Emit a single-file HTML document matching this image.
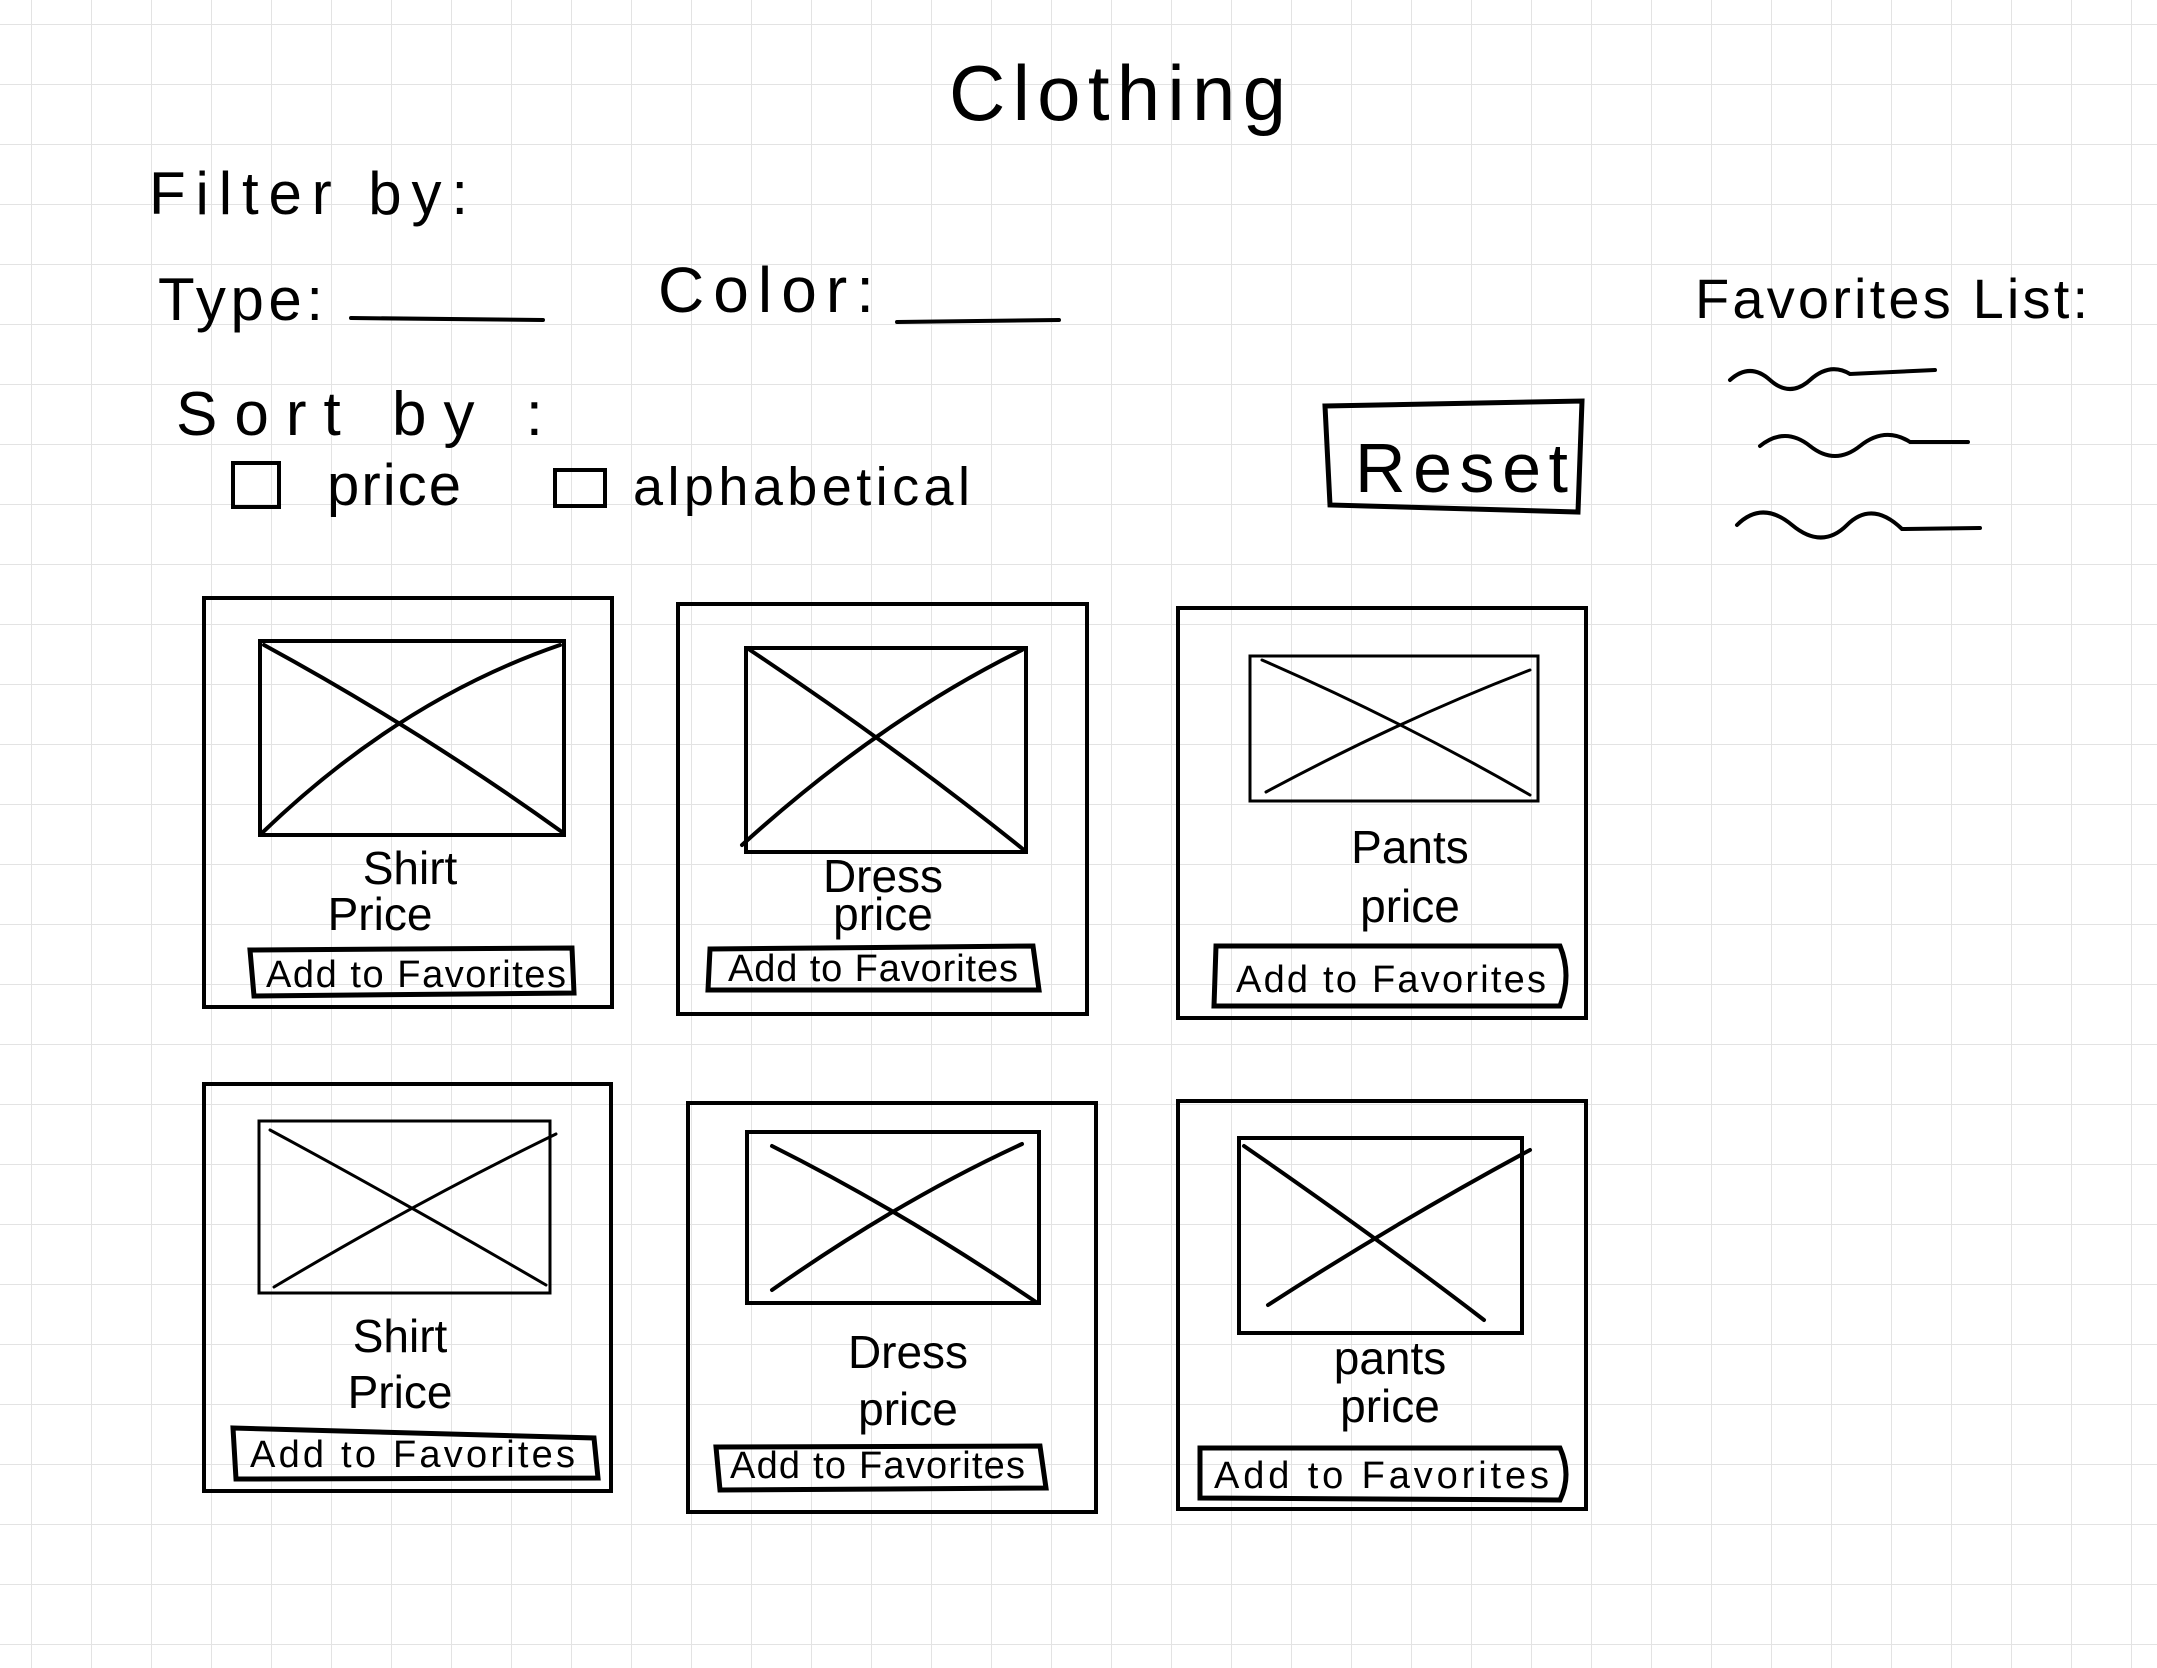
<!DOCTYPE html>
<html><head><style>
html,body{margin:0;padding:0;background:#fff;}
svg{display:block;}
text{font-family:"Liberation Sans",sans-serif;fill:#000;}
</style></head><body>
<svg width="2157" height="1668" viewBox="0 0 2157 1668" xmlns="http://www.w3.org/2000/svg">
<defs>
<pattern id="g" x="31" y="24" width="60" height="60" patternUnits="userSpaceOnUse">
<path d="M0 0H60M0 0V60" stroke="#e3e3e3" stroke-width="2" fill="none"/>
</pattern>
</defs>
<rect width="2157" height="1668" fill="url(#g)"/>
<g fill="none" stroke="#000" stroke-linecap="round">
<line x1="351" y1="318" x2="543" y2="320" stroke-width="4"/>
<line x1="897" y1="322" x2="1059" y2="320" stroke-width="4"/>
<rect x="233" y="463" width="46" height="44" stroke-width="4"/>
<rect x="555" y="470" width="50" height="36" stroke-width="4"/>
<path d="M1325 406 L1582 401 L1578 512 L1330 505 Z" stroke-width="5"/>
<path d="M1730 380 q20-18 40 0 t40 0 t40-6 L1935 370" stroke-width="4"/>
<path d="M1760 446 q25-20 50 0 t50 0 t50-4 L1968 442" stroke-width="4"/>
<path d="M1737 525 q25-25 55 0 t55 0 t55 4 L1980 528" stroke-width="4"/>
<g stroke-width="4">
<rect x="204" y="598" width="408" height="409"/>
<rect x="678" y="604" width="409" height="410"/>
<rect x="1178" y="608" width="408" height="410"/>
<rect x="204" y="1084" width="407" height="407"/>
<rect x="688" y="1103" width="408" height="409"/>
<rect x="1178" y="1101" width="408" height="408"/>
</g>
<g stroke-width="4">
<rect x="260" y="641" width="304" height="194"/><path d="M262 833 Q400 700 560 645 M264 645 Q420 730 562 832"/>
<rect x="746" y="648" width="280" height="204"/><path d="M742 845 Q880 720 1022 650 M750 650 Q900 750 1024 850"/>
<rect x="1250" y="656" width="288" height="145" stroke-width="3"/><path d="M1266 792 Q1400 720 1530 670 M1262 660 Q1400 720 1530 795" stroke-width="3"/>
<rect x="259" y="1121" width="291" height="172" stroke-width="3"/><path d="M274 1287 Q420 1200 556 1134 M270 1130 Q400 1200 546 1285" stroke-width="3"/>
<rect x="747" y="1132" width="292" height="171"/><path d="M772 1290 Q900 1200 1022 1144 M772 1146 Q900 1210 1036 1302"/>
<rect x="1239" y="1138" width="283" height="195"/><path d="M1268 1305 Q1400 1220 1530 1150 M1244 1146 Q1380 1240 1484 1320"/>
</g>
<g stroke-width="5">
<path d="M250 950 L572 948 L574 993 L254 996 Z"/>
<path d="M710 949 L1033 946 L1039 990 L708 990 Z"/>
<path d="M1216 946 L1560 946 Q1572 975 1560 1006 L1214 1006 Z"/>
<path d="M233 1428 L594 1438 L598 1478 L236 1479 Z"/>
<path d="M716 1447 L1040 1446 L1046 1488 L720 1490 Z"/>
<path d="M1200 1448 L1560 1448 Q1572 1475 1560 1500 L1200 1498 Z"/>
</g>
</g>
<g lengthAdjust="spacing">
<text x="949" y="120" font-size="78" textLength="337" lengthAdjust="spacing">Clothing</text>
<text x="149" y="214" font-size="60" textLength="319" lengthAdjust="spacing">Filter by:</text>
<text x="158" y="320" font-size="60" textLength="165" lengthAdjust="spacing">Type:</text>
<text x="658" y="312" font-size="64" textLength="216" lengthAdjust="spacing">Color:</text>
<text x="176" y="435" font-size="62" textLength="367" lengthAdjust="spacing">Sort by :</text>
<text x="327" y="505" font-size="58" textLength="134" lengthAdjust="spacing">price</text>
<text x="633" y="505" font-size="54" textLength="337" lengthAdjust="spacing">alphabetical</text>
<text x="1355" y="492" font-size="70" textLength="213" lengthAdjust="spacing">Reset</text>
<text x="1695" y="318" font-size="56" textLength="393" lengthAdjust="spacing">Favorites List:</text>
</g>
<g font-size="46" text-anchor="middle">
<text x="410" y="884">Shirt</text><text x="380" y="930">Price</text>
<text x="883" y="892">Dress</text><text x="883" y="930">price</text>
<text x="1410" y="863">Pants</text><text x="1410" y="922">price</text>
<text x="400" y="1352">Shirt</text><text x="400" y="1408">Price</text>
<text x="908" y="1368">Dress</text><text x="908" y="1425">price</text>
<text x="1390" y="1374">pants</text><text x="1390" y="1422">price</text>
</g>
<g font-size="38">
<text x="266" y="987" textLength="300" lengthAdjust="spacing">Add to Favorites</text>
<text x="728" y="981" textLength="290" lengthAdjust="spacing">Add to Favorites</text>
<text x="1236" y="992" textLength="310" lengthAdjust="spacing">Add to Favorites</text>
<text x="250" y="1467" textLength="325" lengthAdjust="spacing">Add to Favorites</text>
<text x="730" y="1478" textLength="295" lengthAdjust="spacing">Add to Favorites</text>
<text x="1214" y="1488" textLength="335" lengthAdjust="spacing">Add to Favorites</text>
</g>
</svg>
</body></html>
